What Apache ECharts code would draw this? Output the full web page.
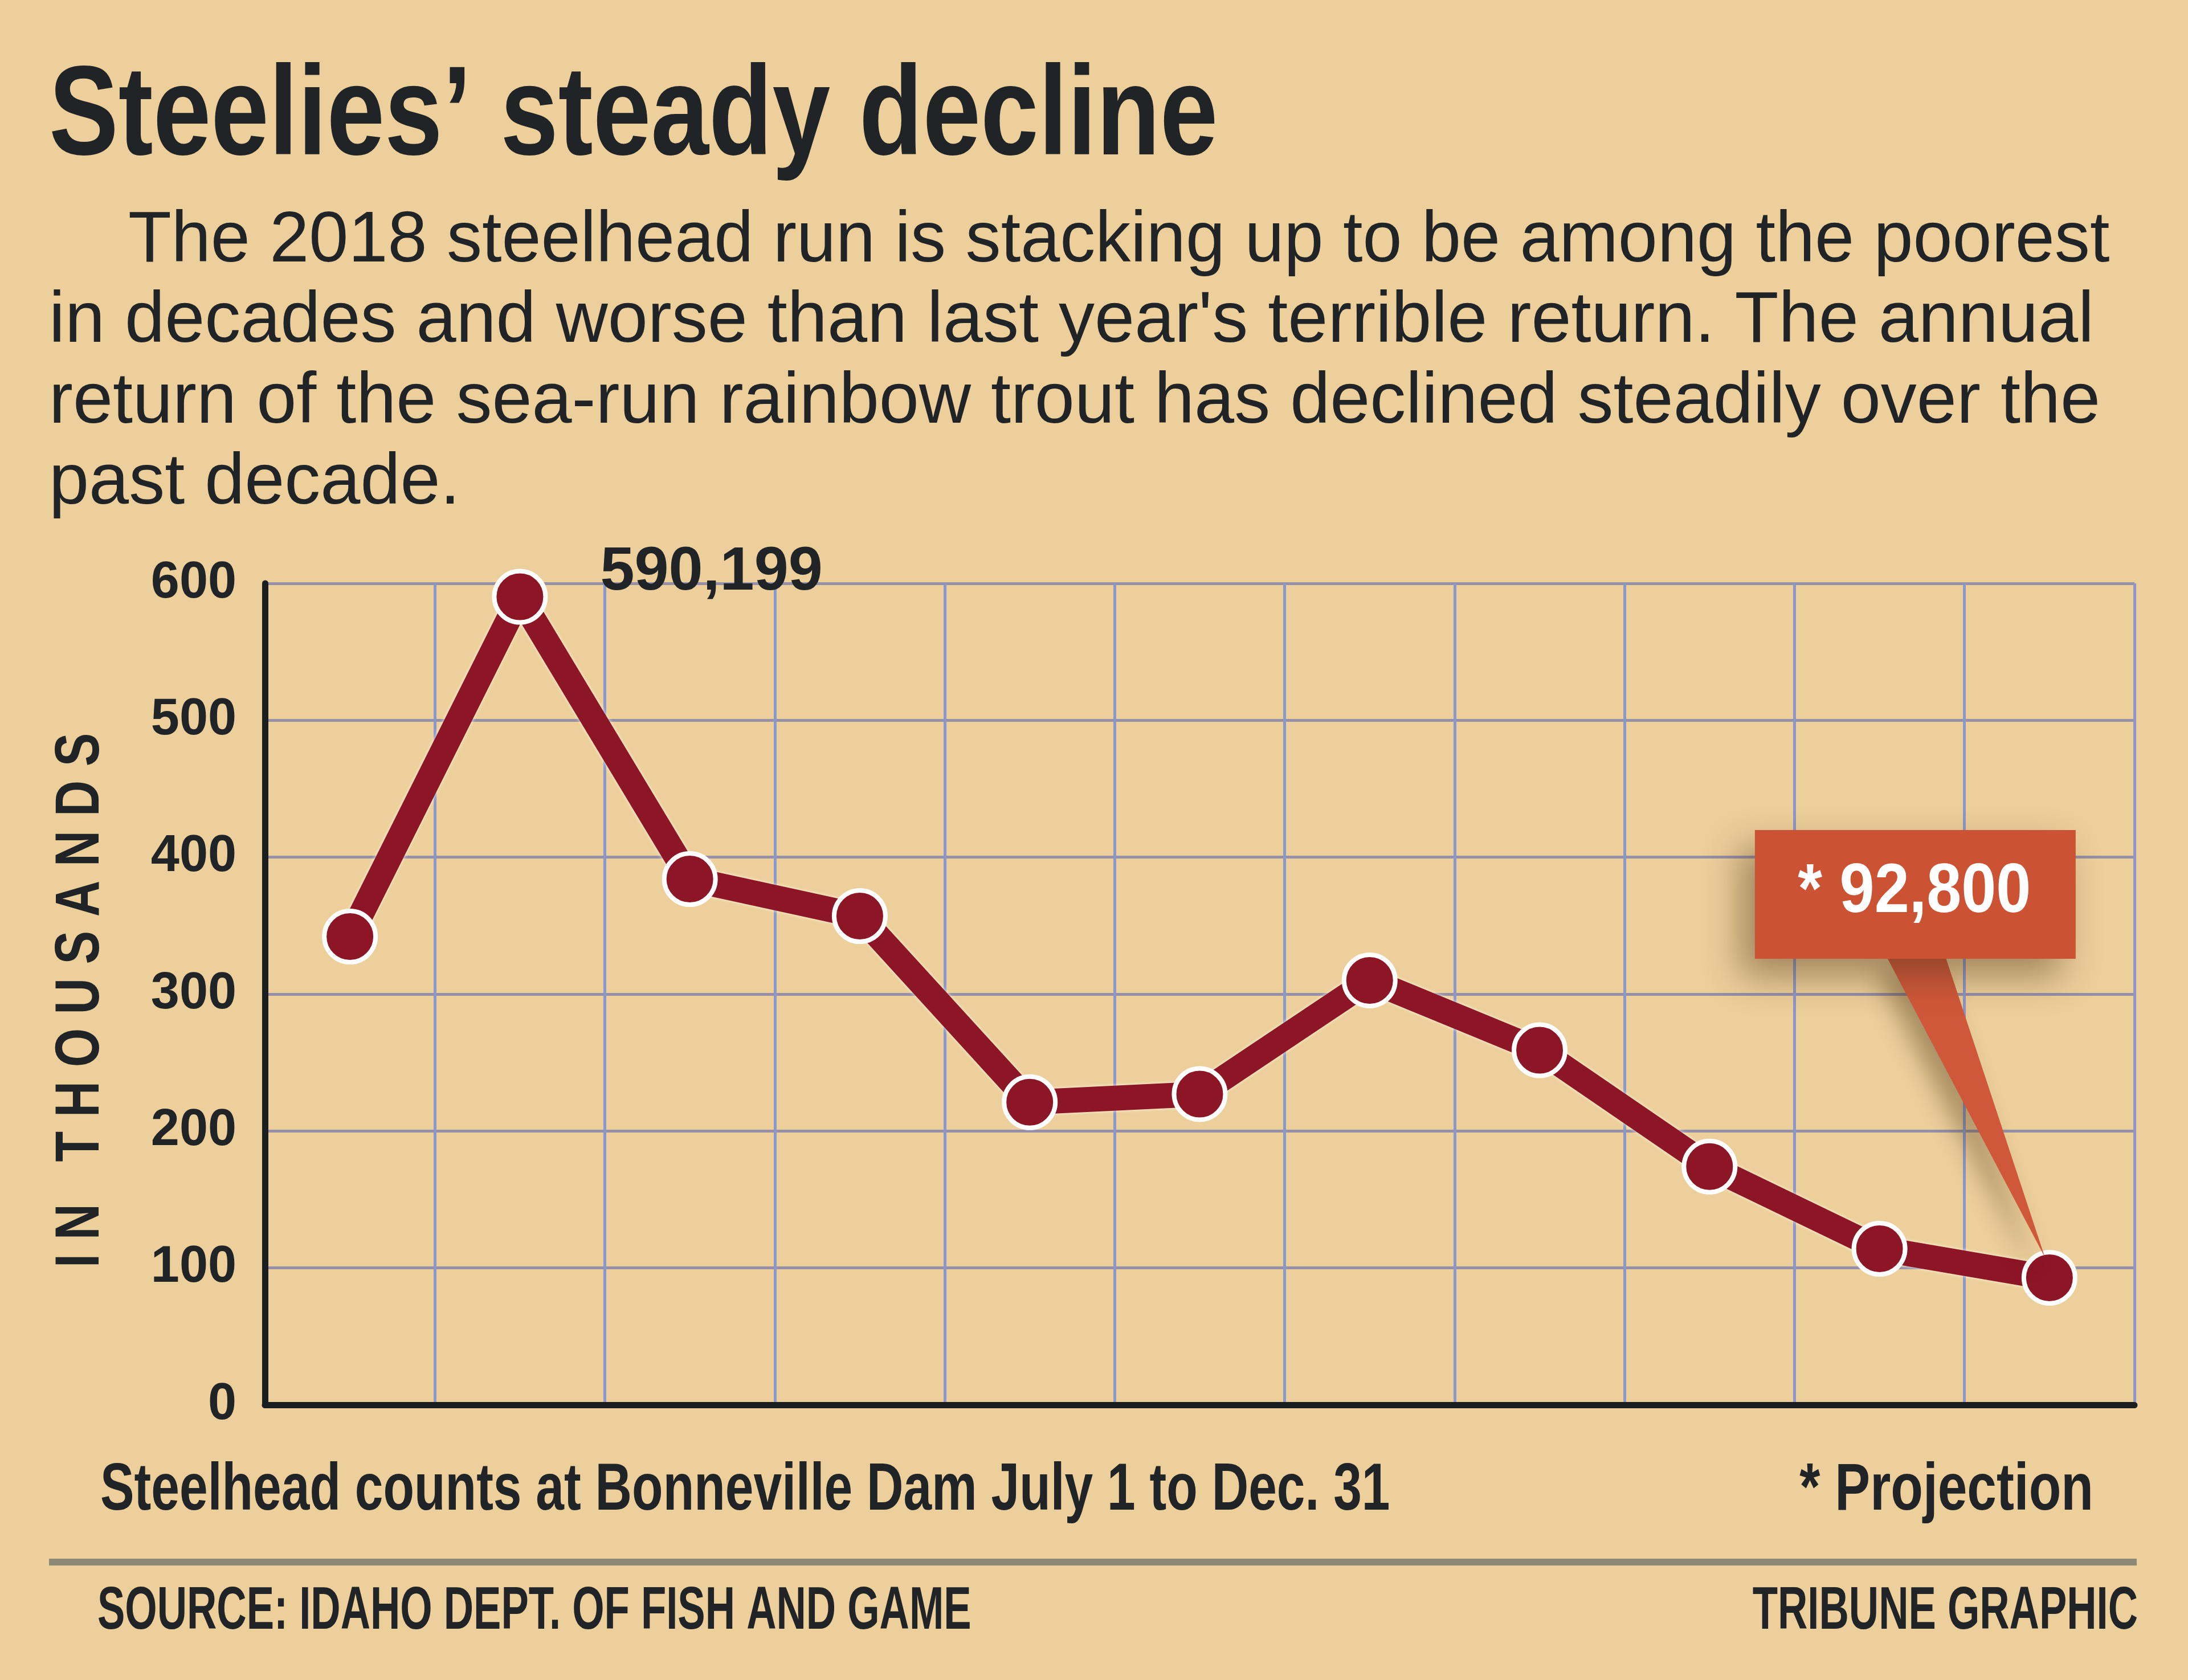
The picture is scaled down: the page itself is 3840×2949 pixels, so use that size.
<!DOCTYPE html>
<html>
<head>
<meta charset="utf-8">
<script src="https://cdn.jsdelivr.net/npm/echarts@6/dist/echarts.min.js"></script>
<style>
  html, body { margin: 0; padding: 0; background: #ECCF9A; }
  #chart { width: 3840px; height: 2949px; }
</style>
</head>
<body>
<div id="chart"></div>
<script>
// ---- data (values in thousands) ----
const years = ['2008', '2009', '2010', '2011', '2012', '2013', '2014', '2015', '2016', '2017', '2018'];
const steelheadCounts = [342, 590.199, 384, 357, 221, 227, 310, 259, 174, 114, 92.8];
const yTicks = [0, 100, 200, 300, 400, 500, 600];

const titleText = 'Steelies\u2019 steady decline';
const introLines = [
  'The 2018 steelhead run is stacking up to be among the poorest',
  'in decades and worse than last year\'s terrible return. The annual',
  'return of the sea-run rainbow trout has declined steadily over the',
  'past decade.'
];
const noteText = 'Steelhead counts at Bonneville Dam July 1 to Dec. 31';
const projectionText = '* Projection';
const sourceText = 'SOURCE: IDAHO DEPT. OF FISH AND GAME';
const creditText = 'TRIBUNE GRAPHIC';
const yAxisTitle = 'I N   T H O U S A N D S';

// ---- styling ----
const BG = '#ECCF9A';
const INK = '#202427';
const LINE_RED = '#8C1526';
const CALLOUT = '#CB5333';

function fmt(v) { return Math.round(v * 1000).toLocaleString('en-US'); }

const peakIndex = steelheadCounts.indexOf(Math.max.apply(null, steelheadCounts));
const lastIndex = steelheadCounts.length - 1;

const seriesData = steelheadCounts.map(function (v, i) {
  if (i === peakIndex) {
    return {
      value: v,
      label: {
        show: true,
        position: 'right',
        distance: 92,
        offset: [0, -42],
        formatter: function (p) { return fmt(p.value); },
        fontFamily: '"Liberation Sans", Arial, sans-serif',
        fontWeight: 'bold',
        fontSize: 108,
        color: INK
      }
    };
  }
  return v;
});

const chart = echarts.init(document.getElementById('chart'), null, { renderer: 'canvas' });

const option = {
  animation: false,
  backgroundColor: BG,
  grid: { left: 465, right: 94, top: 1024, bottom: 483 },
  xAxis: {
    type: 'category',
    data: years,
    boundaryGap: true,
    axisLine: { show: true, lineStyle: { color: '#1b1d1e', width: 11 } },
    axisTick: { show: false },
    axisLabel: { show: false },
    splitLine: { show: true, lineStyle: { color: '#8A98CA', width: 5 } },
    z: 3
  },
  yAxis: {
    type: 'value',
    min: yTicks[0],
    max: yTicks[yTicks.length - 1],
    interval: 100,
    axisLine: { show: true, lineStyle: { color: '#1b1d1e', width: 11 } },
    axisTick: { show: false },
    axisLabel: {
      margin: 50,
      fontFamily: '"Liberation Sans", Arial, sans-serif',
      fontWeight: 'bold',
      fontSize: 90,
      color: INK
    },
    splitLine: { show: true, lineStyle: { color: '#958FA8', width: 5 } },
    z: 3
  },
  series: [{
    type: 'line',
    data: seriesData,
    symbol: 'circle',
    symbolSize: 90,
    z: 5,
    lineStyle: {
      color: LINE_RED,
      width: 44,
      join: 'round',
      shadowColor: 'rgba(255,250,235,0.9)',
      shadowBlur: 6
    },
    itemStyle: {
      color: LINE_RED,
      borderColor: '#ffffff',
      borderWidth: 8
    },
    emphasis: { disabled: true }
  }]
};

chart.setOption(option);

// ---- annotations placed through the chart's own scales ----
const lastPt = chart.convertToPixel({ seriesIndex: 0 }, [lastIndex, steelheadCounts[lastIndex]]);
const px = lastPt[0], py = lastPt[1];

function condensed(id, text, x, y, size, scaleX, align, weight, color) {
  return {
    type: 'text', id: id, x: x, y: y, scaleX: scaleX, z: 20,
    style: {
      text: text,
      fontFamily: '"Liberation Sans", Arial, sans-serif',
      fontWeight: weight,
      fontSize: size,
      fill: color,
      align: align,
      verticalAlign: 'middle'
    }
  };
}

const graphics = [];
// title
graphics.push(condensed('title', titleText, 86, 210, 222, 0.823, 'left', 'bold', INK));
// intro paragraph
const introY = [424, 565, 707, 849];
introLines.forEach(function (line, i) {
  graphics.push(condensed('intro' + i, line, i === 0 ? 225 : 86, introY[i], 126, i === 0 ? 0.985 : 1, 'left', 'normal', INK));
});
// rotated axis title
graphics.push({
  type: 'text', id: 'ytitle', x: 143, y: 1756, rotation: Math.PI / 2, scaleX: 0.8, z: 20,
  style: {
    text: yAxisTitle,
    fontFamily: '"Liberation Sans", Arial, sans-serif',
    fontWeight: 'bold', fontSize: 110, fill: INK,
    align: 'center', verticalAlign: 'middle'
  }
});
// notes & footer
graphics.push(condensed('note', noteText, 176, 2618, 116, 0.77, 'left', 'bold', INK));
graphics.push(condensed('proj', projectionText, 3674, 2618, 116, 0.8, 'right', 'bold', INK));
graphics.push({
  type: 'rect', id: 'rule', z: 10,
  shape: { x: 86, y: 2736, width: 3664, height: 12 },
  style: { fill: '#8C8A76' }
});
graphics.push(condensed('source', sourceText, 171, 2830, 105, 0.69, 'left', 'bold', INK));
graphics.push(condensed('credit', creditText, 3752, 2830, 105, 0.69, 'right', 'bold', INK));

// callout for the projection
graphics.push({
  type: 'polygon', id: 'pointer', z: 30,
  shape: { points: [[px - 285, py - 562], [px - 182, py - 562], [px - 8, py - 36]] },
  style: {
    fill: '#D0583A',
    shadowColor: 'rgba(70,45,20,0.4)', shadowBlur: 40, shadowOffsetX: -20, shadowOffsetY: 25
  }
});
graphics.push({
  type: 'rect', id: 'box', z: 31,
  shape: { x: px - 517, y: py - 786, width: 563, height: 226 },
  style: {
    fill: CALLOUT,
    shadowColor: 'rgba(70,45,20,0.45)', shadowBlur: 60, shadowOffsetX: -25, shadowOffsetY: 30
  }
});
graphics.push({
  type: 'text', id: 'boxtext', x: px - 237, y: py - 676, scaleX: 0.9, z: 32,
  style: {
    text: '* ' + fmt(steelheadCounts[lastIndex]),
    fontFamily: '"Liberation Sans", Arial, sans-serif',
    fontWeight: 'bold', fontSize: 122, fill: '#ffffff',
    align: 'center', verticalAlign: 'middle'
  }
});

chart.setOption({ graphic: graphics });
</script>
</body>
</html>
